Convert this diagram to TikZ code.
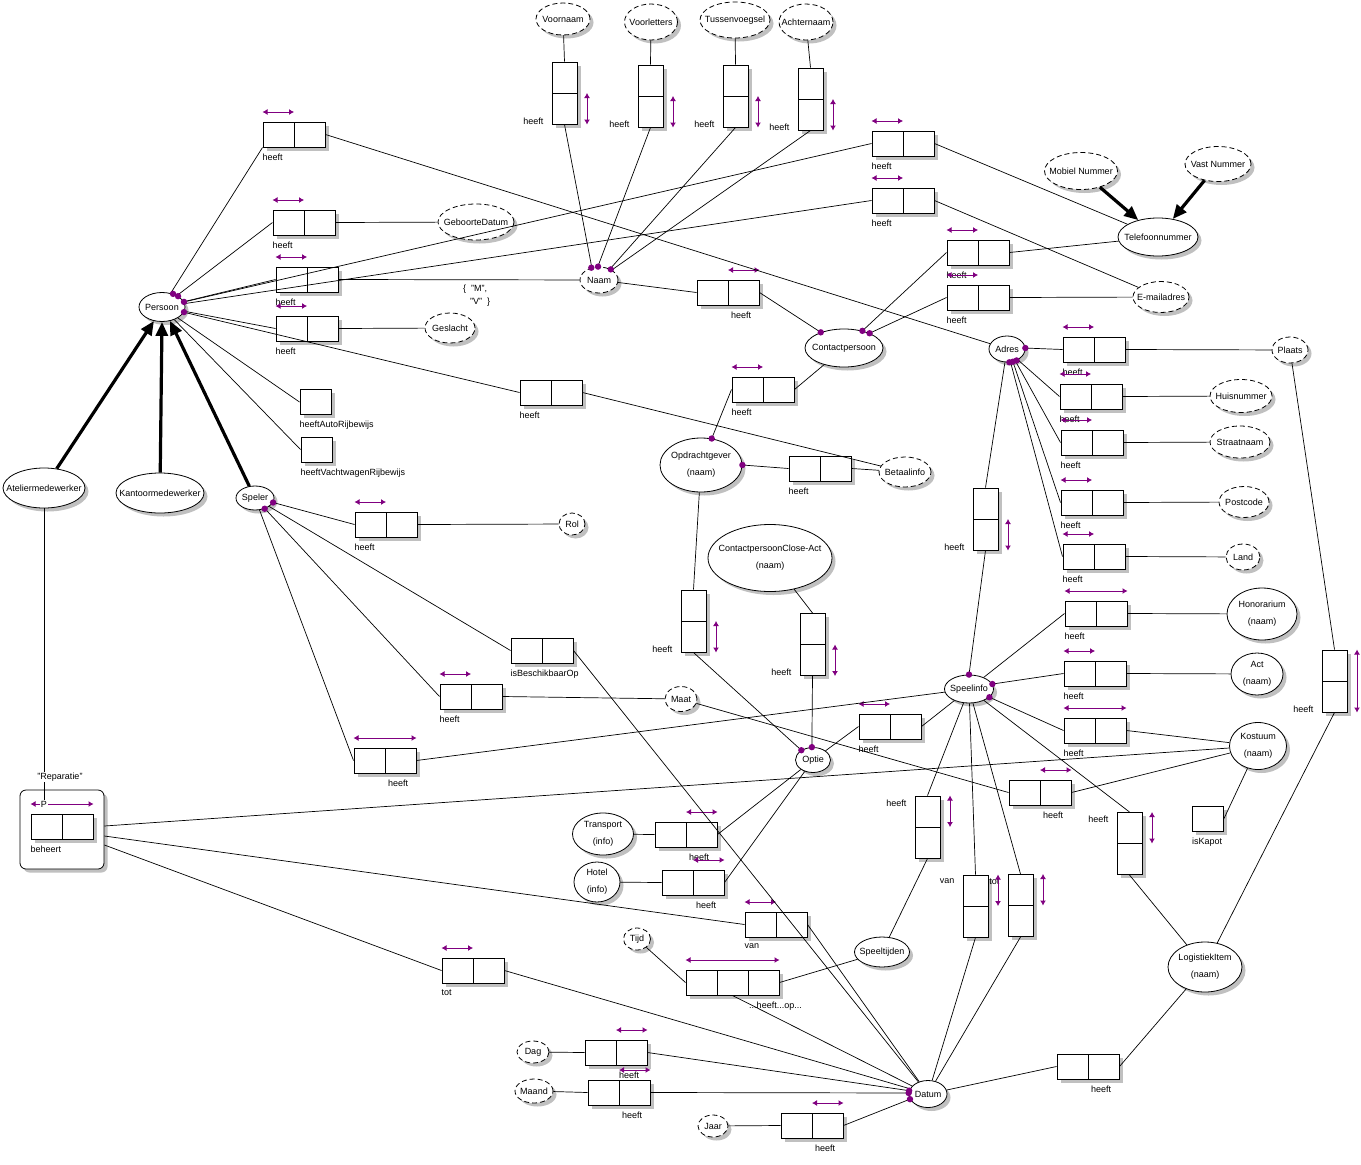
\documentclass[tikz,border=0pt]{standalone}
\usepackage{fontspec}
\setmainfont{Liberation Sans}
\usetikzlibrary{shapes.geometric, arrows.meta, shadows, positioning}
\definecolor{ormpurple}{RGB}{128, 0, 128}
\definecolor{shadowgray}{RGB}{192, 192, 192}
\newcommand{\etxt}[1]{\makebox[0pt]{#1}}
\tikzset{
  dropgray/.style={drop shadow={shadow xshift=3.5pt, shadow yshift=-3.5pt, fill=shadowgray, opacity=1}},
  sz/.style 2 args={minimum width=#1pt, minimum height=#2pt},
  entity/.style={ellipse, draw, line width=0.8pt, fill=white, inner sep=0pt, dropgray},
  value/.style={entity, dash pattern=on 5pt off 3pt},
  twoline/.style={align=center, font=\fontsize{9}{17}\selectfont},
  fact/.style={rectangle, draw, line width=1pt, fill=white, inner sep=0pt, minimum width=62pt, minimum height=25pt, dropgray,
    path picture={\draw[line width=1pt] (path picture bounding box.north) -- (path picture bounding box.south);}},
  vfact/.style={rectangle, draw, line width=1pt, fill=white, inner sep=0pt, minimum width=25pt, minimum height=62pt, dropgray,
    path picture={\draw[line width=1pt] (path picture bounding box.west) -- (path picture bounding box.east);}},
  tfact/.style={rectangle, draw, line width=1pt, fill=white, inner sep=0pt, minimum width=93pt, minimum height=25pt, dropgray,
    path picture={\draw[line width=1pt] ([xshift=31pt]path picture bounding box.north west) -- ([xshift=31pt]path picture bounding box.south west)
                                          ([xshift=-31pt]path picture bounding box.north east) -- ([xshift=-31pt]path picture bounding box.south east);}},
  unary/.style={rectangle, draw, line width=1pt, fill=white, inner sep=0pt, minimum width=31pt, minimum height=25pt, dropgray},
  lbtext/.style={inner sep=0pt},
  lb/.style={label={[lbtext, anchor=north west, yshift=-6pt]south west:#1}},
  rb/.style={label={[lbtext, anchor=north west, yshift=-6pt, xshift=3pt]south:#1}},
  vb/.style={label={[lbtext, anchor=south east, xshift=-8pt]south west:#1}},
  vt/.style={label={[lbtext, anchor=north east, xshift=-8pt, yshift=-4pt]north west:#1}},
  link/.style={line width=0.7pt},
  isa/.style={line width=3.2pt, -{Triangle[length=14pt, width=12pt]}},
  uniq/.style={draw=ormpurple, line width=1pt, {Latex[length=5pt, width=6pt]}-{Latex[length=5pt, width=6pt]}}
}

\begin{document}
\begin{tikzpicture}[x=1pt, y=-1pt, font=\fontsize{9}{11}\selectfont]
    \path[use as bounding box, fill=white] (0,0) rectangle (1361,1165);

    % Object types
    \node (persoon) [entity, sz={46}{29}] at (162,307) {\etxt{Persoon}};
    \node (atelier) [entity, sz={82}{40}] at (44,488) {\etxt{Ateliermedewerker}};
    \node (kantoor) [entity, sz={88}{40}] at (160,493) {\etxt{Kantoormedewerker}};
    \node (speler) [entity, sz={38}{24}] at (255,498) {\etxt{Speler}};
    \node (contact) [entity, sz={78}{38}] at (844,348) {\etxt{Contactpersoon}};
    \node (opdracht) [entity, twoline, sz={82}{54}] at (701,465) {\etxt{Opdrachtgever}\\\etxt{(naam)}};
    \node (telefoon) [entity, sz={80}{38}] at (1158,237) {\etxt{Telefoonnummer}};
    \node (adres) [entity, sz={36}{26}] at (1007,349) {\etxt{Adres}};
    \node (honorarium) [entity, twoline, sz={70}{52}] at (1262,614) {\etxt{Honorarium}\\\etxt{(naam)}};
    \node (act) [entity, twoline, sz={52}{42}] at (1257,674) {\etxt{Act}\\\etxt{(naam)}};
    \node (kostuum) [entity, twoline, sz={57}{47}] at (1258,746) {\etxt{Kostuum}\\\etxt{(naam)}};
    \node (speelinfo) [entity, sz={49}{28}] at (969,689) {\etxt{Speelinfo}};
    \node (closeact) [entity, twoline, sz={124}{67}] at (770,558) {\etxt{ContactpersoonClose-Act}\\\etxt{(naam)}};
    \node (optie) [entity, sz={35}{25}] at (813,760) {\etxt{Optie}};
    \node (transport) [entity, twoline, sz={61}{42}] at (603,834) {\etxt{Transport}\\\etxt{(info)}};
    \node (hotel) [entity, twoline, sz={46}{40}] at (597,882) {\etxt{Hotel}\\\etxt{(info)}};
    \node (speeltijden) [entity, sz={55}{30}] at (882,952) {\etxt{Speeltijden}};
    \node (logistiek) [entity, twoline, sz={74}{50}] at (1205,967) {\etxt{LogistiekItem}\\\etxt{(naam)}};
    \node (datum) [entity, sz={38}{27}] at (928,1094) {\etxt{Datum}};

    % Value types
    \node (naam) [value, sz={38}{26}] at (599,280) {\etxt{Naam}};
    \node (betaal) [value, sz={52}{30}] at (905,472) {\etxt{Betaalinfo}};
    \node (geboorte) [value, sz={76}{36}] at (476,222) {\etxt{GeboorteDatum}};
    \node (geslacht) [value, sz={50}{30}] at (450,328) {\etxt{Geslacht}};
    \node (voornaam) [value, sz={54}{32}] at (563,19) {\etxt{Voornaam}};
    \node (voorletters) [value, sz={53}{36}] at (651,22) {\etxt{Voorletters}};
    \node (tussen) [value, sz={70}{36}] at (735,20) {\etxt{Tussenvoegsel}};
    \node (achternaam) [value, sz={54}{36}] at (806,22) {\etxt{Achternaam}};
    \node (mobiel) [value, sz={73}{37}] at (1081,171) {\etxt{Mobiel Nummer}};
    \node (vast) [value, sz={66}{35}] at (1218,164) {\etxt{Vast Nummer}};
    \node (email) [value, sz={56}{31}] at (1161,297) {\etxt{E-mailadres}};
    \node (plaats) [value, sz={36}{26}] at (1290,350) {\etxt{Plaats}};
    \node (huisnr) [value, sz={62}{33}] at (1241,396) {\etxt{Huisnummer}};
    \node (straat) [value, sz={60}{32}] at (1240,442) {\etxt{Straatnaam}};
    \node (postcode) [value, sz={50}{31}] at (1244,502) {\etxt{Postcode}};
    \node (land) [value, sz={34}{26}] at (1243,557) {\etxt{Land}};
    \node (maat) [value, sz={32}{25}] at (681,699) {\etxt{Maat}};
    \node (rol) [value, sz={26}{22}] at (572,524) {\etxt{Rol}};
    \node (tijd) [value, sz={27}{22}] at (637,939) {\etxt{Tijd}};
    \node (dag) [value, sz={32}{22}] at (533,1052) {\etxt{Dag}};
    \node (maand) [value, sz={38}{24}] at (534,1091) {\etxt{Maand}};
    \node (jaar) [value, sz={30}{22}] at (713,1126) {\etxt{Jaar}};

    % Fact types
    \node (fAdres) [fact, lb=heeft] at (294,134.5) {};
    \node (fGeboorte) [fact, lb=heeft] at (304,222.5) {};
    \node (fNaam) [fact, lb=heeft] at (307,279.5) {};
    \node (fGeslacht) [fact, lb=heeft] at (307,328.5) {};
    \node (fBetaal) [fact, lb=heeft] at (551,392.5) {};
    \node (fAuto) [unary, lb=heeftAutoRijbewijs] at (315.5,402) {};
    \node (fVacht) [unary, lb=heeftVachtwagenRijbewijs] at (316.5,449.5) {};
    \node (fTel) [fact, lb=heeft] at (903,143.5) {};
    \node (fMail) [fact, lb=heeft] at (903,200.5) {};
    \node (fCtel) [fact, lb=heeft] at (978,252.5) {};
    \node (fCmail) [fact, lb=heeft] at (978,297.5) {};
    \node (fCnaam) [fact, rb=heeft] at (728,292.5) {};
    \node (fCopdr) [fact, lb=heeft] at (763,389.5) {};
    \node (fObetaal) [fact, lb=heeft] at (820,468.5) {};
    \node (fPlaats) [fact, lb=heeft] at (1094,349.5) {};
    \node (fHuisnr) [fact, lb=heeft] at (1091,396.5) {};
    \node (fStraat) [fact, lb=heeft] at (1092,442.5) {};
    \node (fPostcode) [fact, lb=heeft] at (1092,502.5) {};
    \node (fLand) [fact, lb=heeft] at (1094,556.5) {};
    \node (fHonor) [fact, lb=heeft] at (1096,613.5) {};
    \node (fAct) [fact, lb=heeft] at (1095,673.5) {};
    \node (fKostuum) [fact, lb=heeft] at (1095,730.5) {};
    \node (fOptie) [fact, lb=heeft] at (890,726.5) {};
    \node (fMaat) [fact, rb=heeft] at (1040,792.5) {};
    \node (fKapot) [unary, lb=isKapot] at (1208,818.5) {};
    \node (fRol) [fact, lb=heeft] at (386,524.5) {};
    \node (fBeschikbaar) [fact, lb=isBeschikbaarOp] at (542,650.5) {};
    \node (fSmaat) [fact, lb=heeft] at (471,696.5) {};
    \node (fSinfo) [fact, rb=heeft] at (385,760.5) {};
    \node (fTransport) [fact, rb=heeft] at (686,834.5) {};
    \node (fHotel) [fact, rb=heeft] at (693,882.5) {};
    \node (fVan) [fact, lb=van] at (776,924.5) {};
    \node (fTot) [fact, lb=tot] at (473,970.5) {};
    \node (fTijd) [tfact, label={[lbtext, anchor=north, yshift=-6pt, xshift=-4pt]south east:...heeft...op...}] at (732.5,982.5) {};
    \node (fDag) [fact, rb=heeft] at (616,1052.5) {};
    \node (fMaand) [fact, rb=heeft] at (619,1092.5) {};
    \node (fJaar) [fact, rb=heeft] at (812,1125.5) {};
    \node (fLogDatum) [fact, rb=heeft] at (1088,1066.5) {};

    \node (fVoornaam) [vfact, vb=heeft] at (564.5,93) {};
    \node (fVoorletters) [vfact, vb=heeft] at (650.5,96) {};
    \node (fTussen) [vfact, vb=heeft] at (735.5,96) {};
    \node (fAchternaam) [vfact, vb=heeft] at (810.5,99) {};
    \node (fSadres) [vfact, vb=heeft] at (985.5,519) {};
    \node (fOoptie) [vfact, vb=heeft] at (693.5,621) {};
    \node (fCAoptie) [vfact, vb=heeft] at (812.5,644.5) {};
    \node (fSpeeltijden) [vfact, vt=heeft] at (927.5,827) {};
    \node (fSvan) [vfact, vt=van] at (975.5,906) {};
    \node (fStot) [vfact, vt=tot] at (1020.5,905.5) {};
    \node (fSlog) [vfact, vt=heeft] at (1129.5,843.5) {};
    \node (fPlog) [vfact, vb=heeft] at (1334.5,681) {};

    % Reparatie (objectified)
    \node (reparatie) [rectangle, rounded corners=6pt, draw, line width=0.8pt, fill=white, dropgray, sz={84}{79}] at (62,829.5) {};
    \node (fBeheert) [fact, lb=beheert] at (62,826.5) {};
    \node (mv) [anchor=west, align=left, inner sep=0pt, font=\fontsize{9}{13}\selectfont] at (463,296) {\{\ \ "M",\\\hspace{7pt}"V"\ \ \}};

    % Uniqueness constraints
    \foreach \f in {fAdres, fGeboorte, fNaam, fGeslacht, fTel, fMail, fCtel, fCmail, fCopdr, fPlaats, fHuisnr, fStraat, fPostcode, fLand, fAct, fOptie, fRol, fSmaat, fVan, fTot}
        \draw[uniq] ([yshift=9.5pt]\f.north west) -- ([yshift=9.5pt]\f.north);
    \foreach \f in {fCnaam, fMaat, fTransport, fHotel, fDag, fMaand, fJaar}
        \draw[uniq] ([yshift=9.5pt]\f.north) -- ([yshift=9.5pt]\f.north east);
    \foreach \f in {fHonor, fKostuum, fSinfo, fTijd, fBeheert}
        \draw[uniq] ([yshift=9.5pt]\f.north west) -- ([yshift=9.5pt]\f.north east);
    \foreach \f in {fVoornaam, fVoorletters, fTussen, fAchternaam, fSadres, fOoptie, fCAoptie}
        \draw[uniq] ([xshift=9.5pt]\f.east) -- ([xshift=9.5pt]\f.south east);
    \foreach \f in {fSpeeltijden, fSvan, fStot, fSlog}
        \draw[uniq] ([xshift=9.5pt]\f.north east) -- ([xshift=9.5pt]\f.east);
    \draw[uniq] ([xshift=9.5pt]fPlog.north east) -- ([xshift=9.5pt]fPlog.south east);
    \node (pmark) [fill=white, inner sep=1pt] at ([xshift=-18pt, yshift=9.5pt]fBeheert.north) {P};

    % Subtypes
    \draw[isa] (atelier) -- (persoon.-120);
    \draw[isa] (kantoor) -- (persoon.-90);
    \draw[isa] (speler) -- (persoon.-60);
    \draw[isa] (mobiel) -- (telefoon);
    \draw[isa] (vast) -- (telefoon);

    % Persoon
    \draw[link] (persoon) -- (fAdres.south west);
    \draw[link] (fAdres.east) -- (adres);
    \draw[link] (persoon) -- (fGeboorte.west);
    \draw[link] (fGeboorte.east) -- (geboorte);
    \draw[link] (persoon) -- (fNaam.west);
    \draw[link] (fNaam.east) -- (naam);
    \draw[link] (persoon) -- (fGeslacht.west);
    \draw[link] (fGeslacht.east) -- (geslacht);
    \draw[link] (persoon) -- (fBetaal.west);
    \draw[link] (fBetaal.east) -- (betaal);
    \draw[link] (persoon) -- (fAuto.west);
    \draw[link] (persoon) -- (fVacht.west);
    \draw[link] (persoon) -- (fTel.west);
    \draw[link] (fTel.east) -- (telefoon);
    \draw[link] (persoon) -- (fMail.west);
    \draw[link] (fMail.east) -- (email);
    \draw[link] (atelier) -- (pmark);
    \node (reptxt) [fill=white, inner sep=1pt] at (60,777) {"Reparatie"};

    % Naam
    \draw[link] (fVoornaam.north) -- (voornaam);
    \draw[link] (fVoornaam.south) -- (naam.120);
    \draw[link] (fVoorletters.north) -- (voorletters);
    \draw[link] (fVoorletters.south) -- (naam.95);
    \draw[link] (fTussen.north) -- (tussen);
    \draw[link] (fTussen.south) -- (naam.45);
    \draw[link] (fAchternaam.north) -- (achternaam);
    \draw[link] (fAchternaam.south) -- (naam.38);
    \draw[link] (naam) -- (fCnaam.west);
    \draw[link] (fCnaam.east) -- (contact.146);

    % Contactpersoon en Opdrachtgever
    \draw[link] (contact.43) -- (fCtel.west);
    \draw[link] (fCtel.east) -- (telefoon);
    \draw[link] (contact.30) -- (fCmail.west);
    \draw[link] (fCmail.east) -- (email);
    \draw[link] (contact) -- (fCopdr.east);
    \draw[link] (fCopdr.west) -- (opdracht.68);
    \draw[link] (opdracht.0) -- (fObetaal.west);
    \draw[link] (fObetaal.east) -- (betaal);
    \draw[link] (opdracht) -- (fOoptie.north);
    \draw[link] (fOoptie.south) -- (optie.140);
    \draw[link] (closeact) -- (fCAoptie.north);
    \draw[link] (fCAoptie.south) -- (optie.95);

    % Adres
    \draw[link] (adres.3) -- (fPlaats.west);
    \draw[link] (fPlaats.east) -- (plaats);
    \draw[link] (adres.-45) -- (fHuisnr.west);
    \draw[link] (fHuisnr.east) -- (huisnr);
    \draw[link] (adres.-55) -- (fStraat.west);
    \draw[link] (fStraat.east) -- (straat);
    \draw[link] (adres.-65) -- (fPostcode.west);
    \draw[link] (fPostcode.east) -- (postcode);
    \draw[link] (adres.-75) -- (fLand.west);
    \draw[link] (fLand.east) -- (land);
    \draw[link] (adres) -- (fSadres.north);
    \draw[link] (fSadres.south) -- (speelinfo.90);
    \draw[link] (plaats) -- (fPlog.north);
    \draw[link] (fPlog.south) -- (logistiek);

    % Speelinfo
    \draw[link] (speelinfo) -- (fHonor.west);
    \draw[link] (fHonor.east) -- (honorarium);
    \draw[link] (speelinfo.12) -- (fAct.west);
    \draw[link] (fAct.east) -- (act);
    \draw[link] (speelinfo.-22) -- (fKostuum.west);
    \draw[link] (fKostuum.east) -- (kostuum);
    \draw[link] (speelinfo) -- (fOptie.east);
    \draw[link] (fOptie.west) -- (optie);
    \draw[link] (speelinfo) -- (fSpeeltijden.north);
    \draw[link] (fSpeeltijden.south) -- (speeltijden);
    \draw[link] (speelinfo) -- (fSvan.north);
    \draw[link] (fSvan.south) -- (datum);
    \draw[link] (speelinfo) -- (fStot.north);
    \draw[link] (fStot.south) -- (datum);
    \draw[link] (speelinfo) -- (fSlog.north);
    \draw[link] (fSlog.south) -- (logistiek);

    % Kostuum
    \draw[link] (kostuum) -- (fKapot.east);
    \draw[link] (kostuum) -- (fMaat.east);
    \draw[link] (fMaat.west) -- (maat);

    % Speler
    \draw[link] (speler.-14) -- (fRol.west);
    \draw[link] (fRol.east) -- (rol);
    \draw[link] (speler) -- (fBeschikbaar.west);
    \draw[link] (fBeschikbaar.east) -- (datum);
    \draw[link] (speler) -- (fSmaat.west);
    \draw[link] (fSmaat.east) -- (maat);
    \draw[link] (speler) -- (fSinfo.west);
    \draw[link] (fSinfo.east) -- (speelinfo);

    % Optie
    \draw[link] (transport) -- (fTransport.west);
    \draw[link] (fTransport.east) -- (optie);
    \draw[link] (hotel) -- (fHotel.west);
    \draw[link] (fHotel.east) -- (optie);

    % Reparatie en Datum
    \draw[link] ([yshift=3.5pt]reparatie.east) -- (kostuum);
    \draw[link] ([yshift=-6.5pt]reparatie.east) -- (fVan.west);
    \draw[link] ([yshift=-15.5pt]reparatie.east) -- (fTot.west);
    \draw[link] (fVan.east) -- (datum);
    \draw[link] (fTot.east) -- (datum);
    \draw[link] (tijd) -- (fTijd.west);
    \draw[link] (fTijd.east) -- (speeltijden);
    \draw[link] (fTijd.south) -- (datum);
    \draw[link] (dag) -- (fDag.west);
    \draw[link] (fDag.east) -- (datum.170);
    \draw[link] (maand) -- (fMaand.west);
    \draw[link] (fMaand.east) -- (datum.177);
    \draw[link] (jaar) -- (fJaar.west);
    \draw[link] (fJaar.east) -- (datum.196);
    \draw[link] (datum) -- (fLogDatum.west);
    \draw[link] (fLogDatum.east) -- (logistiek);

    % Mandatory roles
    \foreach \p in {persoon.50, persoon.34, persoon.13, persoon.-13, naam.122, naam.94, naam.42,
                    contact.146, contact.43, contact.30, opdracht.68, opdracht.0,
                    adres.3, adres.-80, adres.-65, adres.-50, speelinfo.90, speelinfo.12, speelinfo.-22,
                    speler.-14, speler.-48, optie.140, optie.95, datum.170, datum.177, datum.196}
        \fill[ormpurple] (\p) circle (3.2pt);
\end{tikzpicture}
\end{document}
